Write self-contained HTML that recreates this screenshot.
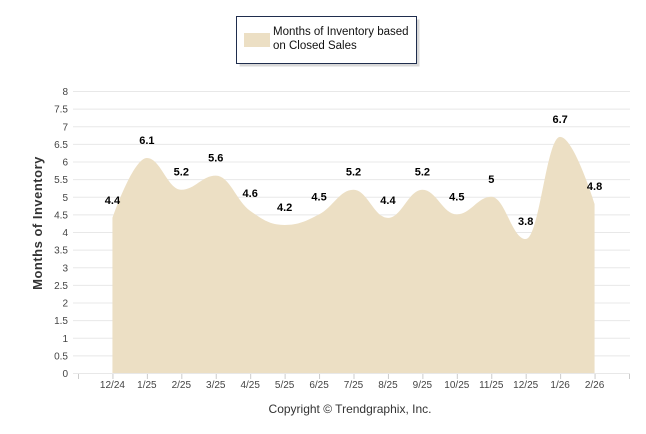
<!DOCTYPE html>
<html><head><meta charset="utf-8"><style>
body{margin:0;background:#fff;}
svg{display:block;font-family:"Liberation Sans",Arial,sans-serif;}
</style></head><body>
<svg id="chart" width="646" height="434">
  <g>
    <rect x="237.5" y="17.5" width="180" height="47" fill="#d8d8d8" transform="translate(2,2)"/>
    <rect x="236.5" y="16.5" width="180" height="47" fill="#fff" stroke="#1f2d4d" stroke-width="1"/>
    <rect x="244" y="33" width="26" height="14" fill="#ecdfc4"/>
    <text x="273" y="35" font-size="11.5" fill="#111">Months of Inventory based</text>
    <text x="273" y="49" font-size="11.5" fill="#111">on Closed Sales</text>
  </g>
  <g id="grid"></g>
  <g id="area"></g>
  <g id="labels"></g>
  <text transform="translate(42,223) rotate(-90)" text-anchor="middle" font-size="13" font-weight="bold" fill="#333" letter-spacing="0.5">Months of Inventory</text>
  <text x="350" y="413" text-anchor="middle" font-size="12" fill="#333">Copyright © Trendgraphix, Inc.</text>
</svg>
<script>
const categories=["12/24","1/25","2/25","3/25","4/25","5/25","6/25","7/25","8/25","9/25","10/25","11/25","12/25","1/26","2/26"];
const values=[4.4,6.1,5.2,5.6,4.6,4.2,4.5,5.2,4.4,5.2,4.5,5.0,3.8,6.7,4.8];
const yTicks=[0,0.5,1,1.5,2,2.5,3,3.5,4,4.5,5,5.5,6,6.5,7,7.5,8];
const NS="http://www.w3.org/2000/svg";
const x0=78,x1=629,y0=373,yTop=91;
const xs=i=>x0+(i+1)*(x1-x0)/16;
const ys=v=>y0-(v/8)*(y0-yTop);
function mk(t,a,p){const e=document.createElementNS(NS,t);for(const k in a)e.setAttribute(k,a[k]);p.appendChild(e);return e;}
const grid=document.getElementById('grid');
yTicks.forEach(t=>{
  const l=mk('line',{x1:73,x2:630,y1:ys(t)+.5,y2:ys(t)+.5,stroke:'#e8e8e8'},grid);
  
  
  const tx=mk('text',{x:68,y:ys(t)+4,'text-anchor':'end','font-size':'10',fill:'#444'},grid);
  tx.textContent=String(t);
  
  
});
for(let i=0;i<=16;i++){const x=x0+i*(x1-x0)/16;mk('line',{x1:x+.5,x2:x+.5,y1:374,y2:379,stroke:'#ccc'},grid);}
categories.forEach((c,i)=>{
  const tx=mk('text',{x:xs(i),y:388,'text-anchor':'middle','font-size':'10',fill:'#444'},grid);
  tx.textContent=c;
  
  
});
const pts=values.map((v,i)=>[xs(i),ys(v)]);
let d=`M${pts[0][0]},${y0} L${pts[0][0]},${pts[0][1]}`;
const s=1.5;
function ctrl(i){
  const p=pts[i],pr=pts[i-1],nx=pts[i+1];
  if(!pr||!nx)return [p,p];
  let lx=(s*p[0]+pr[0])/(s+1),ly=(s*p[1]+pr[1])/(s+1),rx=(s*p[0]+nx[0])/(s+1),ry=(s*p[1]+nx[1])/(s+1);
  const corr=((ry-ly)*(rx-p[0]))/(rx-lx)+p[1]-ry;
  ly+=corr;ry+=corr;
  if(ly>pr[1]&&ly>p[1]){ly=Math.max(pr[1],p[1]);ry=2*p[1]-ly;}else if(ly<pr[1]&&ly<p[1]){ly=Math.min(pr[1],p[1]);ry=2*p[1]-ly;}
  if(ry>nx[1]&&ry>p[1]){ry=Math.max(nx[1],p[1]);ly=2*p[1]-ry;}else if(ry<nx[1]&&ry<p[1]){ry=Math.min(nx[1],p[1]);ly=2*p[1]-ry;}
  return [[lx,ly],[rx,ry]];
}
const C=pts.map((_,i)=>ctrl(i));
for(let i=1;i<pts.length;i++){
  const a=C[i-1][1],b=C[i][0];
  d+=` C${a[0]},${a[1]} ${b[0]},${b[1]} ${pts[i][0]},${pts[i][1]}`;
}
d+=` L${pts[pts.length-1][0]},${y0} Z`;
const area=mk('path',{d:d,fill:'#ecdfc4'},document.getElementById('area'));


const lab=document.getElementById('labels');
values.forEach((v,i)=>{
  const t=mk('text',{x:xs(i),y:ys(v)-14,'text-anchor':'middle','font-size':'11','font-weight':'bold',fill:'#000'},lab);
  t.textContent=String(v);
  
  
});
</script>
</body></html>
